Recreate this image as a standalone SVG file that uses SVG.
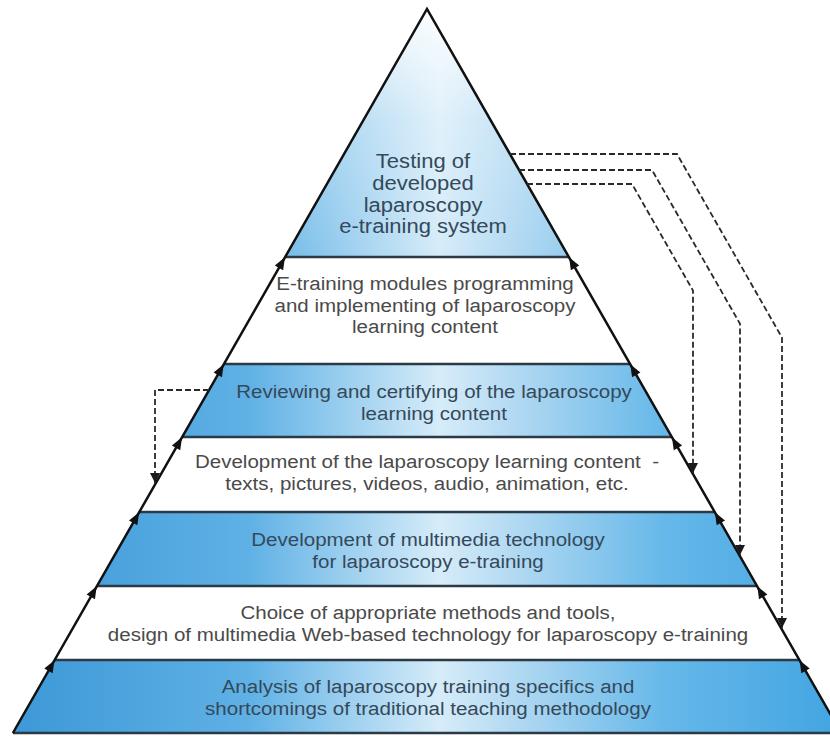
<svg xmlns="http://www.w3.org/2000/svg" width="830" height="736" viewBox="0 0 830 736">
<defs>
<style>
.blue{fill:url(#gBlue);}
.white{fill:#ffffff;}
.t{font-family:"Liberation Sans",Arial,sans-serif;font-size:19px;text-anchor:middle;}
.tb{fill:#34495a;}
.tw{fill:#4a4a4a;}
.div{stroke:#2c3a46;stroke-width:2.5;fill:none;}
.edge{stroke:#111;stroke-width:2.5;fill:none;stroke-linejoin:miter;}
.dash{stroke:#2a2a2a;stroke-width:1.8;fill:none;stroke-dasharray:6 3;}
.ah{fill:#111;}
</style>
<linearGradient id="gBlue" gradientUnits="userSpaceOnUse" x1="0" y1="0" x2="830" y2="0">
<stop offset="0" stop-color="#3b97d6"/>
<stop offset="0.3" stop-color="#5fb1e5"/>
<stop offset="0.53" stop-color="#d6ecf9"/>
<stop offset="0.62" stop-color="#b2d9f2"/>
<stop offset="0.8" stop-color="#66b8e9"/>
<stop offset="1" stop-color="#45a6e2"/>
</linearGradient>
<linearGradient id="gTopFade" gradientUnits="userSpaceOnUse" x1="0" y1="9" x2="0" y2="257">
<stop offset="0" stop-color="#ffffff" stop-opacity="0.9"/>
<stop offset="0.45" stop-color="#ffffff" stop-opacity="0.25"/>
<stop offset="1" stop-color="#ffffff" stop-opacity="0"/>
</linearGradient>
<path id="ea" d="M6.5,0 L-5.5,-4.8 L-5.5,4.8 Z"/>
<marker id="down" viewBox="0 0 10 10" refX="10" refY="5" markerWidth="10" markerHeight="10" markerUnits="userSpaceOnUse" orient="auto">
<path d="M0,0 L10,5 L0,10 Z" fill="#1a1a1a" stroke="none"/>
</marker>
</defs>
<rect width="830" height="736" fill="#ffffff"/>

<g id="level7-testing">
<polygon class="blue" points="427,9 285.1,257 568.9,257"/>
<polygon fill="url(#gTopFade)" points="427,9 285.1,257 568.9,257"/>
<text class="t tb" style="font-size:19.5px" transform="translate(423,0) scale(1.13,1)"><tspan x="0" y="168">Testing of</tspan><tspan x="0" y="190">developed</tspan><tspan x="0" y="212">laparoscopy</tspan><tspan x="0" y="233">e-training system</tspan></text>
</g>

<g id="level6-programming">
<polygon class="white" points="285.1,257 568.9,257 630.1,364 223.9,364"/>
<text class="t tw" transform="translate(425,0) scale(1.08,1)"><tspan x="0" y="290">E-training modules programming</tspan><tspan x="0" y="312">and implementing of laparoscopy</tspan><tspan x="0" y="333">learning content</tspan></text>
</g>

<g id="level5-reviewing">
<polygon class="blue" points="223.9,364 630.1,364 671.8,437 182.2,437"/>
<text class="t tb" transform="translate(434,0) scale(1.08,1)"><tspan x="0" y="398">Reviewing and certifying of the laparoscopy</tspan><tspan x="0" y="420">learning content</tspan></text>
</g>

<g id="level4-content">
<polygon class="white" points="182.2,437 671.8,437 714.7,512 139.3,512"/>
<text class="t tw" transform="translate(427,0) scale(1.08,1)"><tspan x="0" y="468">Development of the laparoscopy learning content&#160; -</tspan><tspan x="0" y="490">texts, pictures, videos, audio, animation, etc.</tspan></text>
</g>

<g id="level3-multimedia">
<polygon class="blue" points="139.3,512 714.7,512 757,586 97,586"/>
<text class="t tb" transform="translate(428,0) scale(1.08,1)"><tspan x="0" y="546">Development of multimedia technology</tspan><tspan x="0" y="568">for laparoscopy e-training</tspan></text>
</g>

<g id="level2-choice">
<polygon class="white" points="97,586 757,586 799.4,660 54.6,660"/>
<text class="t tw" transform="translate(428,0) scale(1.08,1)"><tspan x="0" y="619">Choice of appropriate methods and tools,</tspan><tspan x="0" y="641">design of multimedia Web-based technology for laparoscopy e-training</tspan></text>
</g>

<g id="level1-analysis">
<polygon class="blue" points="54.6,660 799.4,660 841.1,733 12.9,733"/>
<text class="t tb" transform="translate(428,0) scale(1.08,1)"><tspan x="0" y="693">Analysis of laparoscopy training specifics and</tspan><tspan x="0" y="715">shortcomings of traditional teaching methodology</tspan></text>
</g>

<g id="frame">
<path class="div" d="M285.1,257 H568.9 M223.9,364 H630.1 M182.2,437 H671.8 M139.3,512 H714.7 M97,586 H757 M54.6,660 H799.4 M12.9,733 H841.1"/>
<path class="edge" d="M12.9,733 L427,9 L841.1,733"/>
</g>

<g id="connectors">
<g id="edge-arrows-left">
<use href="#ea" class="ah" transform="translate(281.7,263) rotate(-60.23)"/>
<use href="#ea" class="ah" transform="translate(220.5,370) rotate(-60.23)"/>
<use href="#ea" class="ah" transform="translate(178.8,443) rotate(-60.23)"/>
<use href="#ea" class="ah" transform="translate(135.9,518) rotate(-60.23)"/>
<use href="#ea" class="ah" transform="translate(93.5,592) rotate(-60.23)"/>
<use href="#ea" class="ah" transform="translate(51.2,666) rotate(-60.23)"/>
</g>
<g id="edge-arrows-right">
<use href="#ea" class="ah" transform="translate(572.3,263) rotate(-119.77)"/>
<use href="#ea" class="ah" transform="translate(633.5,370) rotate(-119.77)"/>
<use href="#ea" class="ah" transform="translate(675.2,443) rotate(-119.77)"/>
<use href="#ea" class="ah" transform="translate(718.1,518) rotate(-119.77)"/>
<use href="#ea" class="ah" transform="translate(760.5,592) rotate(-119.77)"/>
<use href="#ea" class="ah" transform="translate(802.8,666) rotate(-119.77)"/>
</g>
<path class="dash" d="M510,154 H677 L782,337.6 V628" marker-end="url(#down)"/>
<path class="dash" d="M519,170 H652 L740,323.8 V555" marker-end="url(#down)"/>
<path class="dash" d="M527,184 H632 L693,290.6 V473" marker-end="url(#down)"/>
<path class="dash" d="M209,390 H155 V483" marker-end="url(#down)"/>
</g>
</svg>
